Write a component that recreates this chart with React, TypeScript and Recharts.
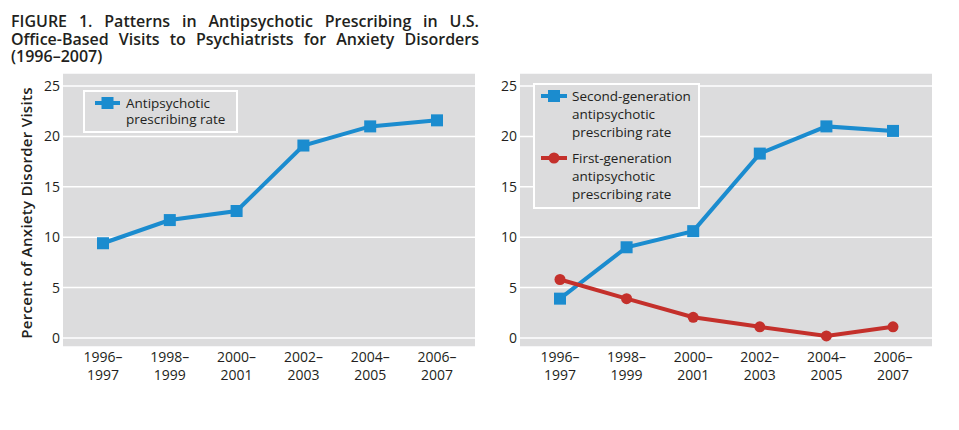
import React from 'react';
import { LineChart, Line, XAxis, YAxis, CartesianGrid, Legend } from 'recharts';

const categories = ['1996–1997', '1998–1999', '2000–2001', '2002–2003', '2004–2005', '2006–2007'];
const antipsychoticRate = [9.4, 11.7, 12.6, 19.1, 21.0, 21.6];
const secondGenRate = [3.9, 9.0, 10.6, 18.3, 21.0, 20.55];
const firstGenRate = [5.8, 3.9, 2.05, 1.1, 0.2, 1.1];
const yTicks = [0, 5, 10, 15, 20, 25];

const BLUE = '#1b8ccf';
const RED = '#c4302b';
const PANEL = '#dcdcdd';
const INK = '#231f20';
const FONT = '"Open Sans", sans-serif';

const leftData = categories.map((period, i) => ({ period, rate: antipsychoticRate[i] }));
const rightData = categories.map((period, i) => ({
    period,
    second: secondGenRate[i],
    first: firstGenRate[i],
}));

const PeriodTick = (props: any) => {
    const { x, y, payload } = props;
    const [from, to] = String(payload.value).split('–');
    return (
        <text x={x} y={y} textAnchor="middle" fill={INK} fontSize={14} fontFamily={FONT}>
            <tspan x={x} dy={15}>{from + '–'}</tspan>
            <tspan x={x} dy={17.5}>{to}</tspan>
        </text>
    );
};

const SquareDot = (props: any) => {
    const { cx, cy, index } = props;
    if (cx == null || cy == null) return <g key={`sq-${index}`} />;
    return <rect key={`sq-${index}`} x={cx - 6} y={cy - 6} width={12} height={12} fill={BLUE} />;
};

// legend box drawn from the payload, keeping the series order
const makeLegend = (opts: { padL: number; padT: number; gap: number; lineH: number; itemGap: number; markW: number }) =>
    (props: any) => {
        const items = props.payload || [];
        return (
            <div
                style={{
                    border: '2px solid #fff',
                    background: PANEL,
                    padding: `${opts.padT}px 4px 4px ${opts.padL}px`,
                    fontFamily: FONT,
                    fontSize: 13.5,
                    lineHeight: `${opts.lineH}px`,
                    color: INK,
                    boxSizing: 'border-box',
                    height: '100%',
                }}
            >
                {items.map((entry: any, i: number) => {
                    const isSquare = entry.dataKey !== 'first';
                    const mid = opts.lineH / 2;
                    return (
                        <div key={i} style={{ display: 'flex', marginTop: i ? opts.itemGap : 0 }}>
                            <svg width={opts.markW} height={opts.lineH} style={{ flex: 'none', marginRight: opts.gap }}>
                                <line x1={0} x2={opts.markW} y1={mid} y2={mid} stroke={entry.color} strokeWidth={4} />
                                {isSquare ? (
                                    <rect x={opts.markW / 2 - 6} y={mid - 6} width={12} height={12} fill={entry.color} />
                                ) : (
                                    <circle cx={opts.markW / 2} cy={mid} r={5.5} fill={entry.color} />
                                )}
                            </svg>
                            <div style={{ whiteSpace: 'pre-line' }}>{entry.value}</div>
                        </div>
                    );
                })}
            </div>
        );
    };

const axisFont = { fill: INK, fontSize: 14, fontFamily: FONT };

export default function App() {
    return (
        <div style={{ position: 'absolute', left: 0, top: 0, width: 959, height: 430, background: '#fff', fontFamily: FONT, color: INK }}>
            <div
                style={{
                    position: 'absolute',
                    left: 11,
                    top: 13,
                    width: 468,
                    fontSize: 16,
                    fontWeight: 600,
                    lineHeight: '17.5px',
                }}
            >
                <div style={{ whiteSpace: 'nowrap', textAlign: 'justify', textAlignLast: 'justify' }}>
                    FIGURE 1. Patterns in Antipsychotic Prescribing in U.S.
                </div>
                <div style={{ whiteSpace: 'nowrap', textAlign: 'justify', textAlignLast: 'justify' }}>
                    Office-Based Visits to Psychiatrists for Anxiety Disorders
                </div>
                <div style={{ whiteSpace: 'nowrap' }}>(1996–2007)</div>
            </div>

            <div
                style={{
                    position: 'absolute',
                    left: 26 - 150,
                    top: 212.5 - 10,
                    width: 300,
                    height: 20,
                    lineHeight: '20px',
                    textAlign: 'center',
                    fontSize: 15,
                    fontWeight: 600,
                    letterSpacing: 0.3,
                    transform: 'rotate(-90deg)',
                    whiteSpace: 'nowrap',
                }}
            >
                Percent of Anxiety Disorder Visits
            </div>

            <div style={{ position: 'absolute', left: 0, top: 0 }}>
                <LineChart width={480} height={400} data={leftData} margin={{ top: 73, right: 5, bottom: 13, left: 33 }}>
                    <CartesianGrid vertical={false} stroke="#fff" strokeWidth={1.5} fill={PANEL} fillOpacity={1} />
                    <XAxis
                        dataKey="period"
                        height={40}
                        axisLine={false}
                        tickLine={false}
                        tickSize={0}
                        tickMargin={0}
                        interval={0}
                        padding={{ left: 40, right: 38 }}
                        tick={<PeriodTick />}
                    />
                    <YAxis
                        width={30}
                        domain={[-0.9, 26.3]}
                        ticks={yTicks}
                        axisLine={false}
                        tickLine={false}
                        tickSize={3}
                        tickMargin={0}
                        tick={axisFont}
                    />
                    <Legend
                        layout="vertical"
                        align="center"
                        verticalAlign="middle"
                        itemSorter={null}
                        wrapperStyle={{ left: 83, top: 90, width: 155, height: 43 }}
                        content={makeLegend({ padL: 10, padT: 3, gap: 6, lineH: 16, itemGap: 0, markW: 25 })}
                    />
                    <Line
                        dataKey="rate"
                        name={'Antipsychotic\nprescribing rate'}
                        stroke={BLUE}
                        strokeWidth={4}
                        dot={<SquareDot />}
                        activeDot={false}
                        isAnimationActive={false}
                    />
                </LineChart>
            </div>

            <div style={{ position: 'absolute', left: 480, top: 0 }}>
                <LineChart width={479} height={400} data={rightData} margin={{ top: 73, right: 27, bottom: 13, left: 10 }}>
                    <CartesianGrid vertical={false} stroke="#fff" strokeWidth={1.5} fill={PANEL} fillOpacity={1} />
                    <XAxis
                        dataKey="period"
                        height={40}
                        axisLine={false}
                        tickLine={false}
                        tickSize={0}
                        tickMargin={0}
                        interval={0}
                        padding={{ left: 40, right: 39 }}
                        tick={<PeriodTick />}
                    />
                    <YAxis
                        width={30}
                        domain={[-0.9, 26.3]}
                        ticks={yTicks}
                        axisLine={false}
                        tickLine={false}
                        tickSize={3}
                        tickMargin={0}
                        tick={axisFont}
                    />
                    <Legend
                        layout="vertical"
                        align="center"
                        verticalAlign="middle"
                        itemSorter={null}
                        wrapperStyle={{ left: 53, top: 83, width: 167, height: 126 }}
                        content={makeLegend({ padL: 6, padT: 2, gap: 5, lineH: 18, itemGap: 8, markW: 26 })}
                    />
                    <Line
                        dataKey="second"
                        name={'Second-generation\nantipsychotic\nprescribing rate'}
                        stroke={BLUE}
                        strokeWidth={4}
                        dot={<SquareDot />}
                        activeDot={false}
                        isAnimationActive={false}
                    />
                    <Line
                        dataKey="first"
                        name={'First-generation\nantipsychotic\nprescribing rate'}
                        stroke={RED}
                        strokeWidth={4}
                        dot={{ r: 5.5, fill: RED, stroke: RED, strokeWidth: 0 }}
                        activeDot={false}
                        isAnimationActive={false}
                    />
                </LineChart>
            </div>
        </div>
    );
}
